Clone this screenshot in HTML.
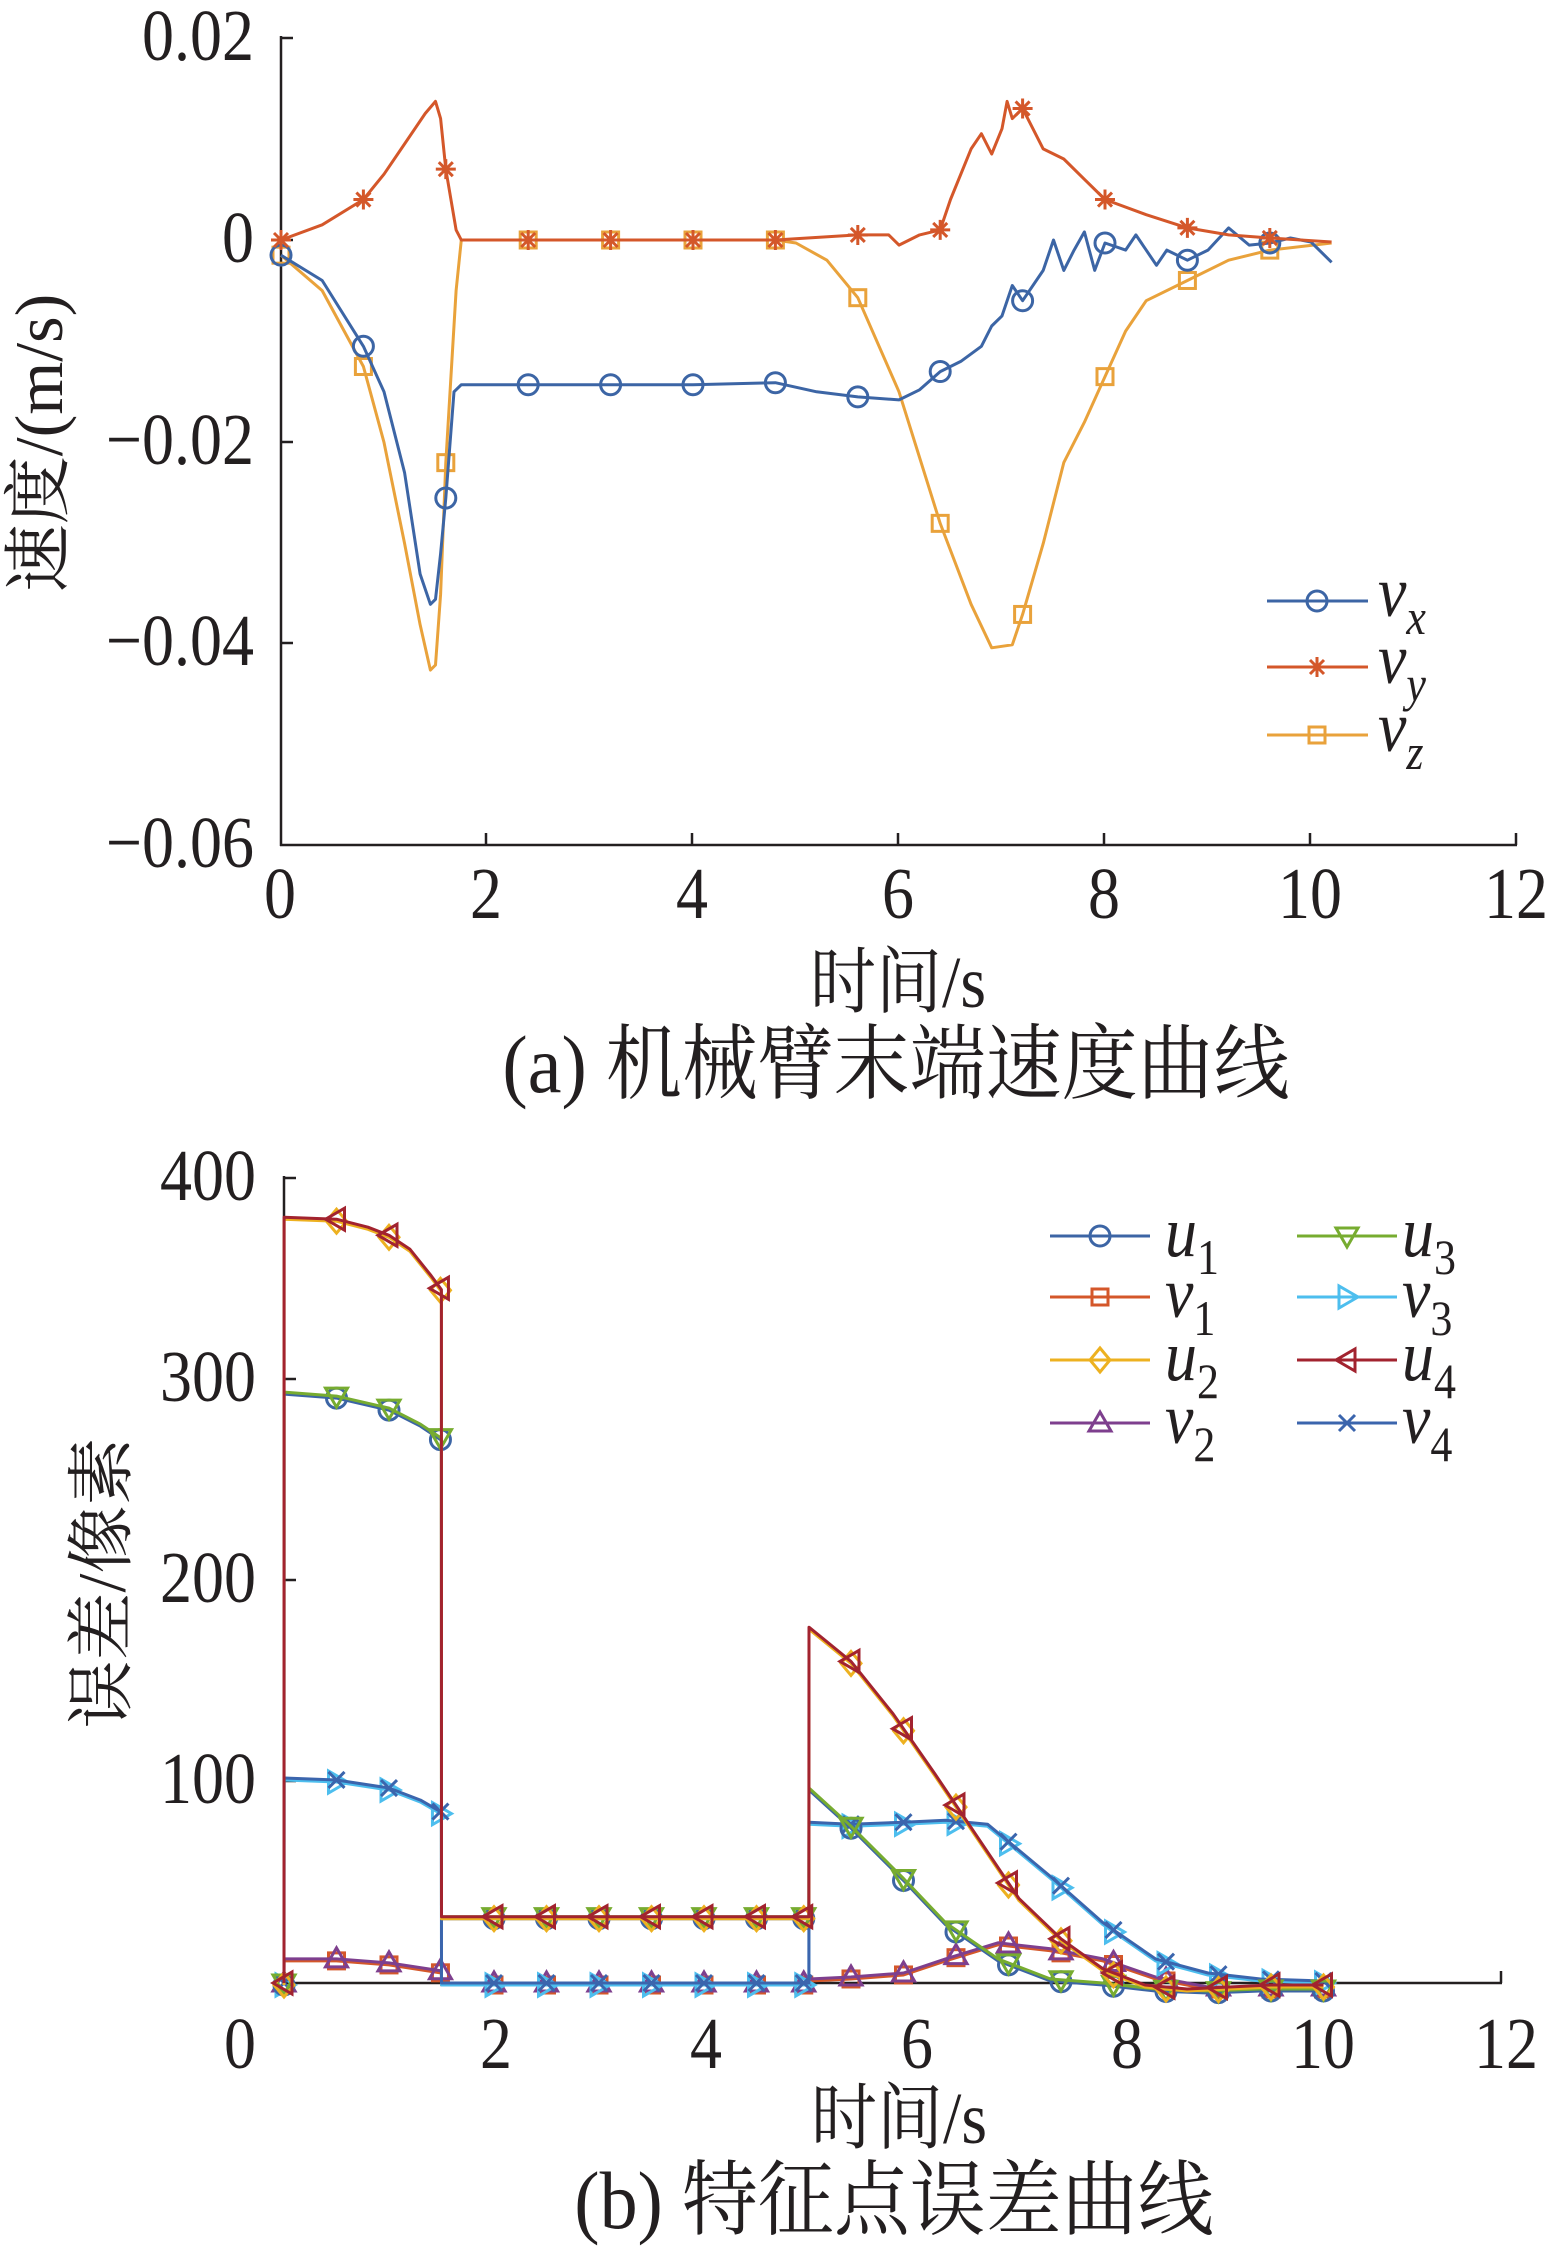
<!DOCTYPE html>
<html><head><meta charset="utf-8">
<style>
html,body{margin:0;padding:0;background:#fff;}
svg{display:block;}
text{font-family:"Liberation Serif","Noto Serif CJK SC",serif;fill:#231f20;}
</style></head>
<body>
<svg id="s" width="1549" height="2255" viewBox="0 0 1549 2255" xmlns="http://www.w3.org/2000/svg">
<g id="ax" stroke="#231f20" stroke-width="2.5" fill="none">
<line x1="281" y1="36" x2="281" y2="846"/>
<line x1="280" y1="845" x2="1517" y2="845"/>
<line x1="281" y1="38" x2="293" y2="38"/>
<line x1="281" y1="240" x2="293" y2="240"/>
<line x1="281" y1="442" x2="293" y2="442"/>
<line x1="281" y1="643" x2="293" y2="643"/>
<line x1="486" y1="845" x2="486" y2="833"/>
<line x1="692" y1="845" x2="692" y2="833"/>
<line x1="898" y1="845" x2="898" y2="833"/>
<line x1="1104" y1="845" x2="1104" y2="833"/>
<line x1="1310" y1="845" x2="1310" y2="833"/>
<line x1="1516" y1="845" x2="1516" y2="833"/>
<line x1="284" y1="1176" x2="284" y2="1984"/>
<line x1="283" y1="1983" x2="1502" y2="1983"/>
<line x1="1501" y1="1983" x2="1501" y2="1971"/>
<line x1="284" y1="1178" x2="296" y2="1178"/>
<line x1="284" y1="1379" x2="296" y2="1379"/>
<line x1="284" y1="1580" x2="296" y2="1580"/>
<line x1="284" y1="1781" x2="296" y2="1781"/>
</g>
<g id="plots"></g>
<g id="txt"></g>
</svg>
<script>
var NS="http://www.w3.org/2000/svg",G=document.getElementById("plots"),TX=document.getElementById("txt");
function el(n,a,p){var e=document.createElementNS(NS,n);for(var k in a)e.setAttribute(k,a[k]);(p||G).appendChild(e);return e;}
function T(x,y,s,size,anchor,sy,rot){var t=el("text",{x:0,y:0,"font-size":size,"text-anchor":anchor||"middle",transform:"translate("+x+","+y+")"+(rot?" rotate(-90)":"")+" scale(1,"+(sy||1.15)+")"},TX);t.textContent=s;return t;}
function L(x,y,a,b,italicB){var t=el("text",{x:0,y:0,"font-size":64,transform:"translate("+x+","+y+") scale(1,1.12)"},TX);
 var t1=document.createElementNS(NS,"tspan");t1.setAttribute("font-style","italic");t1.textContent=a;t.appendChild(t1);
 var t2=document.createElementNS(NS,"tspan");t2.setAttribute("font-size","44");t2.setAttribute("dy","16");if(italicB)t2.setAttribute("font-style","italic");t2.textContent=b;t.appendChild(t2);}
// top texts
[["0.02",38],["0",240],["−0.02",442],["−0.04",643],["−0.06",845]].forEach(function(a){T(254,a[1]+22,a[0],64,"end");});
[["0",280],["2",486],["4",692],["6",898],["8",1104],["10",1310],["12",1516]].forEach(function(a){T(a[1],918,a[0],64);});
T(898,1007,"时间/s",66,"middle",1.1);
T(896,1092,"(a)  机械臂末端速度曲线",76,"middle",1.08);
T(62,443,"速度/(m/s)",68,"middle",1.0,true);
// bottom texts
[["400",1178],["300",1379],["200",1580],["100",1781]].forEach(function(a){T(256,a[1]+22,a[0],64,"end");});
[["0",240],["2",496],["4",706],["6",917],["8",1127],["10",1323],["12",1506]].forEach(function(a){T(a[1],2068,a[0],64);});
T(899,2143,"时间/s",66,"middle",1.1);
T(894,2228,"(b)  特征点误差曲线",76,"middle",1.08);
T(125,1583,"误差/像素",68,"middle",1.0,true);
L(1378,616,"v","x",true);L(1378,683,"v","y",true);L(1378,751,"v","z",true);
L(1165,1256,"u","1");L(1165,1317,"v","1");L(1165,1380,"u","2");L(1165,1443,"v","2");
L(1402,1256,"u","3");L(1402,1317,"v","3");L(1402,1380,"u","4");L(1402,1443,"v","4");

function interp(p,t){for(var i=0;i<p.length-1;i++){if(t>=p[i][0]&&t<=p[i+1][0]){var f=(t-p[i][0])/((p[i+1][0]-p[i][0])||1);return p[i][1]+f*(p[i+1][1]-p[i][1]);}}return p[p.length-1][1];}
function marker(type,x,y,c){var r=10,s={stroke:c,"stroke-width":3,fill:"none"};
 if(type=="o")el("circle",Object.assign({cx:x,cy:y,r:r},s));
 else if(type=="s")el("rect",Object.assign({x:x-8,y:y-8,width:16,height:16},s));
 else if(type=="*"){el("path",Object.assign({d:"M"+(x-10)+" "+y+"h20M"+x+" "+(y-10)+"v20M"+(x-7)+" "+(y-7)+"l14 14M"+(x+7)+" "+(y-7)+"l-14 14"},s));}
 else if(type=="d")el("path",Object.assign({d:"M"+x+" "+(y-12)+"l10 12l-10 12l-10 -12z"},s));
 else if(type=="^")el("path",Object.assign({d:"M"+x+" "+(y-11)+"l11 19h-22z"},s));
 else if(type=="v")el("path",Object.assign({d:"M"+x+" "+(y+11)+"l11 -19h-22z"},s));
 else if(type==">")el("path",Object.assign({d:"M"+(x+11)+" "+y+"l-19 11v-22z"},s));
 else if(type=="<")el("path",Object.assign({d:"M"+(x-11)+" "+y+"l19 11v-22z"},s));
 else if(type=="x")el("path",Object.assign({d:"M"+(x-8)+" "+(y-8)+"l16 16M"+(x+8)+" "+(y-8)+"l-16 16"},s));
}
function series(p,X,Y,c,m,mt){var d="";p.forEach(function(q,i){d+=(i?"L":"M")+X(q[0]).toFixed(1)+" "+Y(q[1]).toFixed(1);});
 el("path",{d:d,stroke:c,"stroke-width":3,fill:"none","stroke-linejoin":"round"});
 mt.forEach(function(t){marker(m,X(t),Y(interp(p,t)),c);});}
var X1=function(t){return 281+103*t},Y1=function(v){return 240-v*10120};
var mt1=[0,0.8,1.6,2.4,3.2,4,4.8,5.6,6.4,7.2,8,8.8,9.6];
var vx=[[0,-0.0015],[0.4,-0.004],[0.8,-0.0105],[1,-0.015],[1.2,-0.023],[1.35,-0.033],[1.45,-0.036],[1.5,-0.0355],[1.55,-0.031],[1.6,-0.0255],[1.68,-0.015],[1.75,-0.0143],[2.4,-0.0143],[4,-0.0143],[4.8,-0.0141],[5.2,-0.015],[5.6,-0.0155],[6,-0.0158],[6.2,-0.0148],[6.4,-0.013],[6.6,-0.012],[6.8,-0.0105],[6.9,-0.0085],[7,-0.0075],[7.1,-0.0045],[7.2,-0.006],[7.4,-0.003],[7.5,0],[7.6,-0.003],[7.7,-0.001],[7.8,0.0008],[7.9,-0.003],[8,-0.0003],[8.2,-0.001],[8.3,0.0005],[8.5,-0.0025],[8.6,-0.001],[8.8,-0.002],[9,-0.001],[9.2,0.0012],[9.4,-0.0005],[9.6,-0.0003],[9.8,0.0002],[10,-0.0002],[10.2,-0.0022]];
var vy=[[0,0],[0.4,0.0015],[0.8,0.004],[1,0.0065],[1.2,0.0095],[1.4,0.0125],[1.5,0.0137],[1.55,0.012],[1.6,0.007],[1.7,0.001],[1.75,0],[4.8,0],[5.6,0.0005],[5.9,0.0005],[6,-0.0005],[6.2,0.0005],[6.4,0.001],[6.5,0.004],[6.7,0.009],[6.8,0.0105],[6.9,0.0085],[7,0.011],[7.05,0.0137],[7.1,0.012],[7.2,0.013],[7.4,0.009],[7.6,0.008],[7.8,0.006],[8,0.004],[8.4,0.0025],[8.8,0.0012],[9.2,0.0005],[9.6,0.0002],[10.2,-0.0002]];
var vz=[[0,-0.0015],[0.4,-0.005],[0.8,-0.0125],[1,-0.02],[1.2,-0.03],[1.35,-0.038],[1.45,-0.0425],[1.5,-0.042],[1.55,-0.035],[1.6,-0.022],[1.7,-0.005],[1.75,0],[4.8,0],[5,-0.0003],[5.3,-0.002],[5.6,-0.0057],[6,-0.015],[6.4,-0.028],[6.7,-0.036],[6.9,-0.0403],[7.1,-0.040],[7.2,-0.037],[7.4,-0.030],[7.6,-0.022],[7.8,-0.018],[8,-0.0135],[8.2,-0.009],[8.4,-0.006],[8.8,-0.004],[9.2,-0.002],[9.6,-0.001],[10.2,-0.0003]];
series(vz,X1,Y1,"#e9a23b","s",mt1);
series(vx,X1,Y1,"#3c65a5","o",mt1);
series(vy,X1,Y1,"#d4572a","*",mt1);
[["#3c65a5","o",601],["#d4572a","*",667],["#e9a23b","s",735]].forEach(function(l){el("line",{x1:1267,y1:l[2],x2:1368,y2:l[2],stroke:l[0],"stroke-width":3});marker(l[1],1317,l[2],l[0]);});
var X2=function(t){return 284+105*t},Y2=function(e){return 1983-2.01*e};
var mt2=[0,0.5,1,1.49,2,2.5,3,3.5,4,4.5,4.95,5.4,5.9,6.4,6.9,7.4,7.9,8.4,8.9,9.4,9.9];
var A=[[0,0],[0.001,381],[0.5,380],[0.8,376],[1,372],[1.2,365],[1.4,352],[1.499,345],[1.5,33],[4.999,33],[5,177],[5.4,160],[5.8,134],[6.2,104],[6.6,73],[7,42],[7.4,22],[7.8,7],[8.2,-1],[8.6,-3],[9,-2],[9.4,-1],[9.9,-1]];
var B=[[0,0],[0.001,294],[0.5,292],[1,286],[1.3,278],[1.499,271],[1.5,33],[4.999,33],[5,97],[5.4,78],[5.9,52],[6.3,30],[6.8,12],[7.3,2],[7.8,0],[8.3,-3],[8.8,-4],[9.3,-3],[9.9,-3]];
var C=[[0,0],[0.001,102],[0.5,101],[1,97],[1.3,91],[1.499,85],[1.5,0],[4.999,0],[5,80],[5.4,79],[5.9,80],[6.3,81],[6.7,79],[7.3,53],[7.8,30],[8.3,12],[8.8,5],[9.3,2],[9.9,1]];
var D=[[0,0],[0.001,12],[0.5,12],[1,10],[1.499,6],[1.5,0],[4.999,0],[5,2],[5.4,3],[5.9,5],[6.3,12],[6.8,20],[7.3,17],[7.8,12],[8.3,3],[8.8,-2],[9.3,-2],[9.9,-2]];
function shift(p,d){return p.map(function(q){return [q[0],q[1]+d];});}
series(shift(D,-1),X2,Y2,"#d4572a","s",mt2);
series(D,X2,Y2,"#7e3f8e","^",mt2);
series(shift(C,-1),X2,Y2,"#4dbeee",">",mt2);
series(C,X2,Y2,"#3b65ad","x",mt2);
series(shift(B,-1),X2,Y2,"#3c65a5","o",mt2);
series(B,X2,Y2,"#77ac30","v",mt2);
series(shift(A,-1),X2,Y2,"#edb120","d",mt2);
series(A,X2,Y2,"#a2232f","<",mt2);
[[1050,1236,"#3c65a5","o"],[1050,1297,"#d4572a","s"],[1050,1360,"#edb120","d"],[1050,1423,"#7e3f8e","^"],
 [1297,1236,"#77ac30","v"],[1297,1297,"#4dbeee",">"],[1297,1360,"#a2232f","<"],[1297,1423,"#3b65ad","x"]].forEach(function(l){
 el("line",{x1:l[0],y1:l[1],x2:l[0]+100,y2:l[1],stroke:l[2],"stroke-width":3});marker(l[3],l[0]+50,l[1],l[2]);});
</script>
</body></html>
